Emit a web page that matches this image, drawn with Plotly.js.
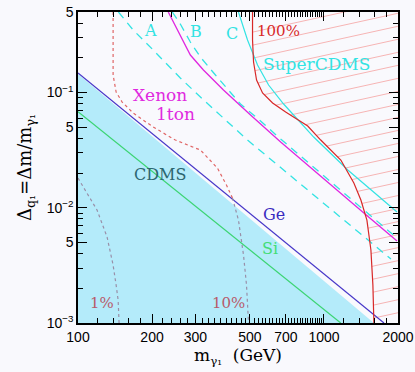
<!DOCTYPE html>
<html>
<head>
<meta charset="utf-8">
<script src="https://cdn.plot.ly/plotly-3.0.1.min.js"></script>
<style>html,body{margin:0;padding:0;background:#f9f9fd;}</style>
</head>
<body>
<div id="chart" style="width:415px;height:372px;"></div>
<script>
// straight reach lines (log-log)
var geMass = [100, 1754];
var geDelta = [0.148, 0.001];
var siMass = [100, 1170];
var siDelta = [0.068, 0.001];
// CDMS excluded region (shaded)
var cdmsMass = [100, 1596, 90, 90];
var cdmsDelta = [0.145, 0.001, 0.001, 0.145];

// dashed A, B and the SuperCDMS / Xenon curves
var aMass = [146, 167.6, 202.2, 260.6, 314.5, 488.9, 859, 1204, 1873];
var aDelta = [0.5, 0.349, 0.234, 0.1337, 0.0914, 0.0387, 0.01425, 0.00782, 0.00359];
var bMass = [241.7, 260.6, 286.3, 314.5, 362.1, 457.8, 552.4, 666.6, 1453, 1982];
var bDelta = [0.5, 0.393, 0.2746, 0.2034, 0.1419, 0.0795, 0.0566, 0.0395, 0.00956, 0.00546];
var xenonMass = [232.8, 253.4, 286.3, 323.5, 390.3, 502.9, 666.6, 1453, 1982];
var xenonDelta = [0.5, 0.349, 0.2117, 0.1568, 0.1051, 0.0638, 0.0372, 0.009, 0.00514];
var superMass = [449.2, 488.9, 537, 595.5, 685.5, 908.5, 1250, 1982];
var superDelta = [0.5, 0.2857, 0.1734, 0.1162, 0.0795, 0.0411, 0.02125, 0.00918];

// relic density contours
var redMass = [512.4, 512.4, 517.3, 532.1, 562.8, 618.3, 698.6, 859, 970.3, 1171, 1323, 1413, 1495, 1552, 1581, 1596];
var redDelta = [0.5, 0.2857, 0.184, 0.1285, 0.0991, 0.0811, 0.0678, 0.0512, 0.0387, 0.02595, 0.0164, 0.01167, 0.00782, 0.0043, 0.002135, 0.001];
var dotMass = [138.9, 138.9, 142.9, 151.2, 167.6, 202.2, 248.7, 314.5, 368.9, 401.4, 424.6];
var dotDelta = [0.5, 0.1419, 0.1011, 0.0827, 0.0664, 0.0502, 0.0387, 0.0317, 0.0221, 0.01575, 0.01215];
var tenMass = [424.6, 449.2, 470.9, 484.3, 493.5];
var tenDelta = [0.01215, 0.00782, 0.00389, 0.002135, 0.001];
var oneMass = [100, 106.8, 119.5, 131.3, 138.9, 142.9, 145.6, 146.9];
var oneDelta = [0.01811, 0.01425, 0.00956, 0.00557, 0.00318, 0.002135, 0.00158, 0.001];

var massTicks = [100, 200, 300, 500, 700, 1000, 2000];
var massTickText = ['100', '200', '300', '500', '700', '1000', '2000'];
var deltaTicks = [0.001, 0.005, 0.01, 0.05, 0.1, 0.5];
var deltaTickText = ['10<sup>−3</sup>', '5', '10<sup>−2</sup>', '5', '10<sup>−1</sup>', '5'];

var massMinor = [];
for (var m = 120; m < 1000; m += 20) {
  if (massTicks.indexOf(m) < 0) massMinor.push(m);
}
massMinor.push(1200, 1400, 1600, 1800);
var deltaMinor = [];
[0.001, 0.01, 0.1].forEach(function (d) {
  [2, 3, 4, 6, 7, 8, 9].forEach(function (k) { if (k * d < 0.5) deltaMinor.push(+(k * d).toPrecision(2)); });
});

// hatching right of the 100% curve
var L = Math.log10;
var redLx = redMass.map(L), redLy = redDelta.map(L);
function redLogX(ly) {
  if (ly >= redLy[0]) return redLx[0];
  var n = redLy.length;
  if (ly <= redLy[n - 1]) return redLx[n - 1];
  for (var i = 0; i < n - 1; i++) {
    if (ly <= redLy[i] && ly >= redLy[i + 1]) {
      var t = (ly - redLy[i]) / (redLy[i + 1] - redLy[i]);
      return redLx[i] + t * (redLx[i + 1] - redLx[i]);
    }
  }
}
var hatchSlope = 0.468, hatchStep = 0.113, hatchTop = -0.312, lxR = L(2000);
var hatchX = [], hatchY = [];
for (var j = -24; j <= 1; j++) {
  var c = hatchTop + j * hatchStep;
  var lo = 1.9, hi = lxR;
  for (var it = 0; it < 40; it++) {
    var mid = (lo + hi) / 2;
    if (mid - redLogX(c + hatchSlope * (mid - lxR)) < 0) lo = mid; else hi = mid;
  }
  hatchX.push(Math.pow(10, lo), 2000, null);
  hatchY.push(Math.pow(10, c + hatchSlope * (lo - lxR)), Math.pow(10, c), null);
}

var cyan = '#33e3e3';
var data = [
  {x: cdmsMass, y: cdmsDelta, fill: 'toself', fillcolor: '#b4ebfa', line: {width: 0}, mode: 'lines'},
  {x: hatchX, y: hatchY, mode: 'lines', line: {color: '#f6b4b4', width: 1}, connectgaps: false},
  {x: siMass, y: siDelta, mode: 'lines', line: {color: '#3cd473', width: 1.2}},
  {x: geMass, y: geDelta, mode: 'lines', line: {color: '#4636c8', width: 1.2}},
  {x: oneMass, y: oneDelta, mode: 'lines', line: {color: '#998fa8', width: 1.2, dash: 'dot'}},
  {x: tenMass, y: tenDelta, mode: 'lines', line: {color: '#998fa8', width: 1.2, dash: 'dot'}},
  {x: dotMass, y: dotDelta, mode: 'lines', line: {color: '#e06666', width: 1.2, dash: 'dot'}},
  {x: aMass, y: aDelta, mode: 'lines', line: {color: cyan, width: 1.3, dash: '8px,6px'}},
  {x: xenonMass, y: xenonDelta, mode: 'lines', line: {color: '#e028e0', width: 1.3}},
  {x: bMass, y: bDelta, mode: 'lines', line: {color: cyan, width: 1.3, dash: '8px,6px'}},
  {x: superMass, y: superDelta, mode: 'lines', line: {color: cyan, width: 1.2}},
  {x: redMass, y: redDelta, mode: 'lines', line: {color: '#d82828', width: 1.2}}
];

function label(text, px, py, color, size) {
  return {xref: 'paper', yref: 'paper', x: px, y: py, xanchor: 'center', yanchor: 'middle',
    text: text, showarrow: false,
    font: {family: 'DejaVu Serif, serif', size: size || 16, color: color}};
}

var layout = {
  width: 415, height: 372,
  margin: {l: 78, r: 17, t: 12, b: 49},
  paper_bgcolor: '#f9f9fd', plot_bgcolor: '#f9f9fd',
  showlegend: false,
  font: {family: 'Liberation Sans, Arial, sans-serif', size: 14, color: '#000'},
  xaxis: {
    type: 'log', range: [2, L(2000)],
    tickmode: 'array', tickvals: massTicks, ticktext: massTickText,
    ticks: 'inside', ticklen: 9, tickcolor: '#000',
    minor: {tickmode: 'array', tickvals: massMinor, ticks: 'inside', ticklen: 5, tickcolor: '#000'},
    showline: true, linecolor: '#000', linewidth: 1.5, mirror: 'ticks',
    showgrid: false, zeroline: false,
    title: {text: 'm<sub>γ₁</sub>  (GeV)', font: {family: 'DejaVu Serif, serif', size: 17}, standoff: 6}
  },
  yaxis: {
    type: 'log', range: [-3, L(0.5)],
    tickmode: 'array', tickvals: deltaTicks, ticktext: deltaTickText,
    ticks: 'inside', ticklen: 9, tickcolor: '#000',
    minor: {tickmode: 'array', tickvals: deltaMinor, ticks: 'inside', ticklen: 5, tickcolor: '#000'},
    showline: true, linecolor: '#000', linewidth: 1.5, mirror: 'ticks',
    showgrid: false, zeroline: false,
    title: {text: 'Δ<sub>q₁</sub>=Δm/m<sub>γ₁</sub>', font: {family: 'DejaVu Serif, serif', size: 18}, standoff: 10}
  },
  annotations: [
    label('A', 0.228, 0.939, cyan),
    label('B', 0.369, 0.936, cyan),
    label('C', 0.481, 0.932, cyan),
    label('100%', 0.628, 0.939, '#d82828', 15),
    label('SuperCDMS', 0.744, 0.833, cyan, 17),
    label('Xenon', 0.256, 0.733, '#e028e0', 17),
    label('1ton', 0.306, 0.672, '#e028e0', 17),
    label('CDMS', 0.256, 0.479, '#2d6670'),
    label('Ge', 0.6125, 0.35, '#3a2cc0'),
    label('Si', 0.6, 0.241, '#44dd77'),
    label('1%', 0.075, 0.064, '#b85a6a', 15),
    label('10%', 0.469, 0.064, '#b85a6a', 15)
  ]
};

Plotly.newPlot('chart', data, layout, {displayModeBar: false});
</script>
</body>
</html>
